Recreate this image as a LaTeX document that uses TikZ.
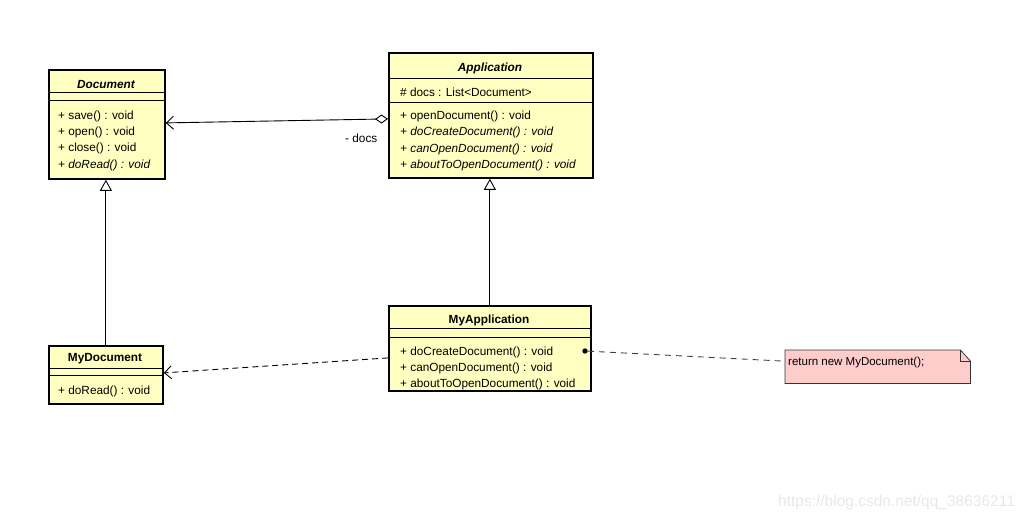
\documentclass[tikz,border=0pt]{standalone}
\usepackage{fontspec}
\setmainfont{Liberation Sans}
\usetikzlibrary{arrows.meta}
\definecolor{umlfill}{RGB}{255,255,194}
\definecolor{notefill}{RGB}{255,204,204}
\definecolor{wmark}{RGB}{232,232,232}
\begin{document}
\begin{tikzpicture}[x=1pt,y=-1pt,
  cls/.style={draw=black,line width=1.8pt,fill=umlfill,inner sep=0pt,anchor=north west},
  sep/.style={line width=1pt},
  row/.style={anchor=west,inner sep=0pt,yshift=-1.5pt,font=\fontsize{11.8}{14}\selectfont},
  ttl/.style={anchor=center,inner sep=0pt,yshift=-1pt,font=\fontsize{11.8}{14}\selectfont\bfseries},
  conn/.style={line width=0.9pt},
  dep/.style={line width=0.9pt,dash pattern=on 6pt off 4pt},
  notelink/.style={line width=0.9pt,draw=black!75,dash pattern=on 6pt off 5pt},
  gen/.style={conn,-{Triangle[open,length=11pt,width=12pt,fill=white]}},
  barb/.tip={Straight Barb[length=7pt,width=13pt]},
]
\useasboundingbox (0,0) rectangle (1028,522);

% Document
\node[cls,minimum width=116pt,minimum height=109pt] (doc) at (48,69) {};
\draw[sep] (48,92) -- (164,92);
\draw[sep] (48,100) -- (164,100);
\node[ttl] (docT) at (106,83) {\itshape Document};
\node[row] (doc1) at (58,115) {+ save() : void};
\node[row] (doc2) at (58,131) {+ open() : void};
\node[row] (doc3) at (58,147) {+ close() : void};
\node[row] (doc4) at (58,164) {\itshape + doRead() : void};

% Application
\node[cls,minimum width=204pt,minimum height=125pt] (app) at (388,52) {};
\draw[sep] (388,78) -- (592,78);
\draw[sep] (388,102) -- (592,102);
\node[ttl] (appT) at (490,67) {\itshape Application};
\node[row] (app0) at (400,91) {\# docs : List<Document>};
\node[row] (app1) at (400,115) {+ openDocument() : void};
\node[row] (app2) at (400,131) {\itshape + doCreateDocument() : void};
\node[row] (app3) at (400,148) {\itshape + canOpenDocument() : void};
\node[row] (app4) at (400,164) {\itshape + aboutToOpenDocument() : void};

% MyApplication
\node[cls,minimum width=202pt,minimum height=85pt] (myapp) at (388,305) {};
\draw[sep] (388,328) -- (590,328);
\draw[sep] (388,337) -- (590,337);
\node[ttl] (myappT) at (489,319) {MyApplication};
\node[row] (myapp1) at (400,351) {+ doCreateDocument() : void};
\node[row] (myapp2) at (400,367) {+ canOpenDocument() : void};
\node[row] (myapp3) at (400,383) {+ aboutToOpenDocument() : void};
\node[circle,fill=black,inner sep=1.9pt] (dot) at (585,351) {};

% MyDocument
\node[cls,minimum width=114pt,minimum height=58pt] (mydoc) at (48,345) {};
\draw[sep] (48,368) -- (162,368);
\draw[sep] (48,375) -- (162,375);
\node[ttl] (mydocT) at (105,358) {MyDocument};
\node[row] (mydoc1) at (58,390) {+ doRead() : void};

% Note
\node[inner sep=0pt,minimum width=185pt,minimum height=33pt,anchor=north west] (note) at (785,350) {};
\draw[line width=0.8pt,draw=black!80,fill=notefill]
  (note.north west) -- ([xshift=-10pt]note.north east) -- ([yshift=-11pt]note.north east)
  -- (note.south east) -- (note.south west) -- cycle;
\draw[line width=0.8pt,draw=black!80]
  ([xshift=-10pt]note.north east) -- ([xshift=-10pt,yshift=-11pt]note.north east) -- ([yshift=-11pt]note.north east);
\node[row,font=\fontsize{11.5}{14}\selectfont] (noteT) at (788,361) {return new MyDocument();};

% Connectors
\draw[conn,{Diamond[open,length=13pt,width=9pt,fill=white]}-{barb}]
  ([yshift=-3.5pt]app.west) -- ([yshift=1.5pt]doc.east);
\node[row] (docsL) at (345,137) {- docs};
\draw[gen] (mydoc.north) -- (mydoc.north |- doc.south);
\draw[gen] (myapp.north) -- (myapp.north |- app.south);
\draw[dep,-{barb}] ([yshift=-9.5pt]myapp.west) -- ([yshift=2pt]mydoc.east);
\draw[notelink] (dot) -- ([yshift=5.5pt]note.west);

% Watermark
\node[anchor=west,inner sep=0pt,text=wmark,font=\fontsize{15.5}{18}\selectfont] (wm) at (778,502) {https://blog.csdn.net/qq\_38636211};
\end{tikzpicture}
\end{document}
